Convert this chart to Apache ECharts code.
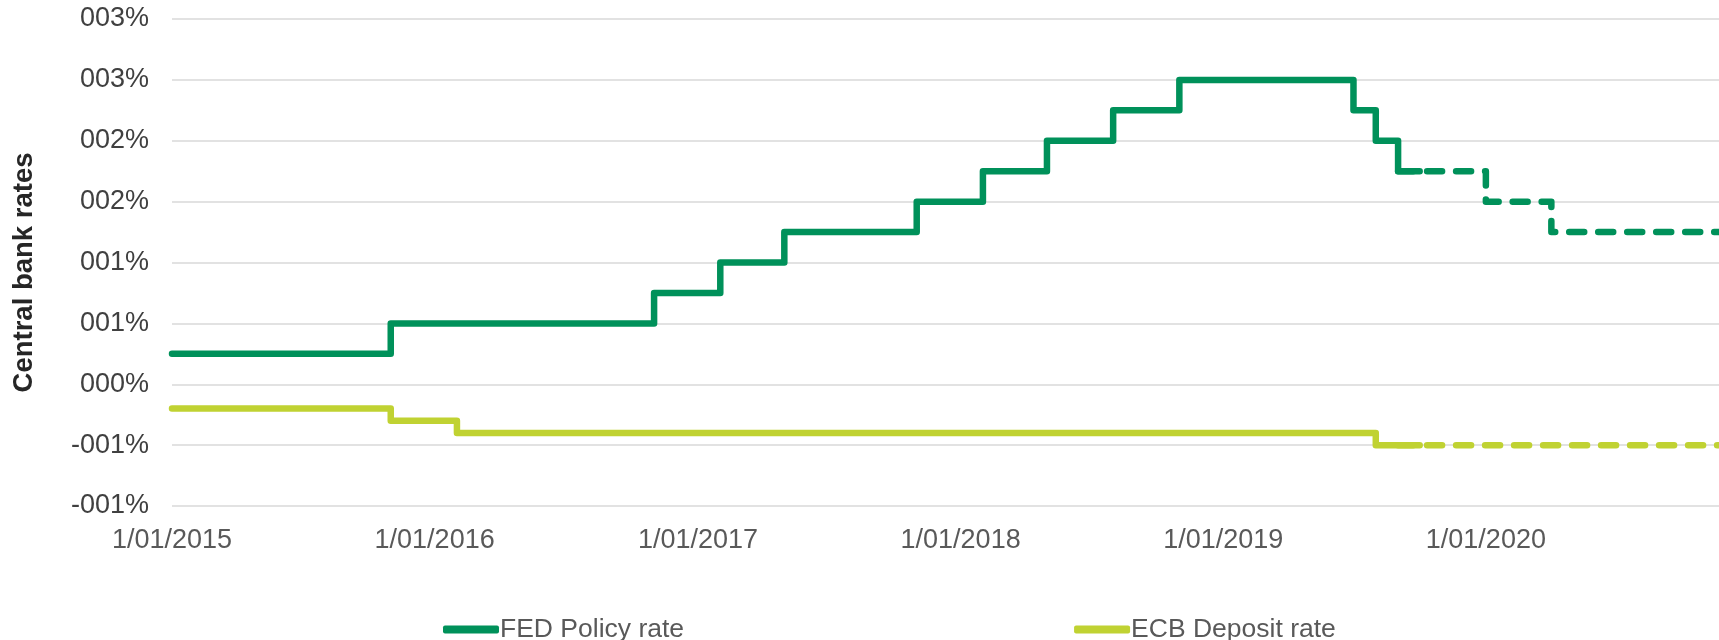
<!DOCTYPE html>
<html>
<head>
<meta charset="utf-8">
<script src="https://cdn.jsdelivr.net/npm/echarts@6/dist/echarts.min.js"></script>
<style>
    html, body { margin: 0; padding: 0; background: #fff; }
    #chart { width: 1719px; height: 640px; }
</style>
</head>
<body>
<div id="chart"></div>
<script>
// rates in %, each point is the date a new level starts
var fedSolid = [
    ['2015-01-01', 0.25], ['2015-11-01', 0.5], ['2016-11-01', 0.75],
    ['2017-02-01', 1.0], ['2017-05-01', 1.25], ['2017-11-01', 1.5],
    ['2018-02-01', 1.75], ['2018-05-01', 2.0], ['2018-08-01', 2.25],
    ['2018-11-01', 2.5], ['2019-07-01', 2.25], ['2019-08-01', 2.0],
    ['2019-09-01', 1.75], ['2019-10-01', 1.75]
];
var fedDashed = [
    ['2019-09-01', 1.75], ['2020-01-01', 1.5], ['2020-04-01', 1.25], ['2020-11-20', 1.25]
];
var ecbSolid = [
    ['2015-01-01', -0.2], ['2015-11-01', -0.3], ['2016-02-01', -0.4],
    ['2019-08-01', -0.5], ['2019-10-01', -0.5]
];
var ecbDashed = [
    ['2019-09-01', -0.5], ['2020-11-20', -0.5]
];
var seriesNames = ['FED Policy rate', 'ECB Deposit rate'];
var xStart = '2015-01-01';
var xEnd = '2020-11-20';

var FED_COLOR = '#00915a';
var ECB_COLOR = '#c0d232';
var FONT = 'Liberation Sans, Arial, sans-serif';
var YEAR_MS = 365 * 24 * 3600 * 1000;

function pctLabel(v) {
    // "000%" style: rounded away from zero, three digits
    var n = Math.round(Math.abs(v));
    var s = String(n);
    while (s.length < 3) s = '0' + s;
    return (v < 0 ? '-' : '') + s + '%';
}

function pad2(n) {
    return n < 10 ? '0' + n : '' + n;
}

function stepLine(name, data, color, dashed) {
    return {
        type: 'line',
        name: name,
        data: data,
        step: 'end',
        symbol: 'none',
        silent: true,
        lineStyle: {
            color: color,
            width: 6.5,
            type: dashed ? [15, 14] : 'solid',
            cap: 'round',
            join: 'round'
        },
        itemStyle: { color: color }
    };
}

var chart = echarts.init(document.getElementById('chart'), null, { renderer: 'canvas' });

chart.setOption({
    animation: false,
    backgroundColor: '#fff',
    grid: {
        left: 172,
        right: 0,
        top: 19,
        bottom: 134,
        outerBoundsMode: 'none'
    },
    legend: {
        data: seriesNames,
        top: 611,
        left: 438,
        itemGap: 390,
        itemWidth: 56,
        itemHeight: 8,
        icon: 'roundRect',
        textStyle: {
            fontFamily: FONT,
            fontSize: 26.5,
            color: '#595959',
            padding: [0, 0, 0, -4]
        }
    },
    xAxis: {
        type: 'time',
        min: xStart,
        max: xEnd,
        minInterval: YEAR_MS,
        maxInterval: YEAR_MS + 2 * 24 * 3600 * 1000,
        axisLine: { show: false },
        axisTick: { show: false },
        splitLine: { show: false },
        axisLabel: {
            fontFamily: FONT,
            fontSize: 27,
            color: '#595959',
            margin: 21,
            hideOverlap: false,
            formatter: function (v) {
                var d = new Date(v);
                return d.getDate() + '/' + pad2(d.getMonth() + 1) + '/' + d.getFullYear();
            }
        }
    },
    yAxis: {
        type: 'value',
        min: -1,
        max: 3,
        interval: 0.5,
        name: 'Central bank rates',
        nameLocation: 'middle',
        nameRotate: 90,
        nameGap: 134,
        nameTextStyle: {
            fontFamily: FONT,
            fontSize: 27.5,
            fontWeight: 'bold',
            color: '#262626',
            padding: [0, 20, 0, 0]
        },
        axisLine: { show: false },
        axisTick: { show: false },
        splitLine: { lineStyle: { color: '#d9d9d9', width: 1.5 } },
        axisLabel: {
            fontFamily: FONT,
            fontSize: 27,
            color: '#404040',
            margin: 23,
            formatter: pctLabel
        }
    },
    series: [
        stepLine(seriesNames[0], fedSolid, FED_COLOR, false),
        stepLine(seriesNames[0], fedDashed, FED_COLOR, true),
        stepLine(seriesNames[1], ecbSolid, ECB_COLOR, false),
        stepLine(seriesNames[1], ecbDashed, ECB_COLOR, true)
    ]
});
</script>
</body>
</html>
